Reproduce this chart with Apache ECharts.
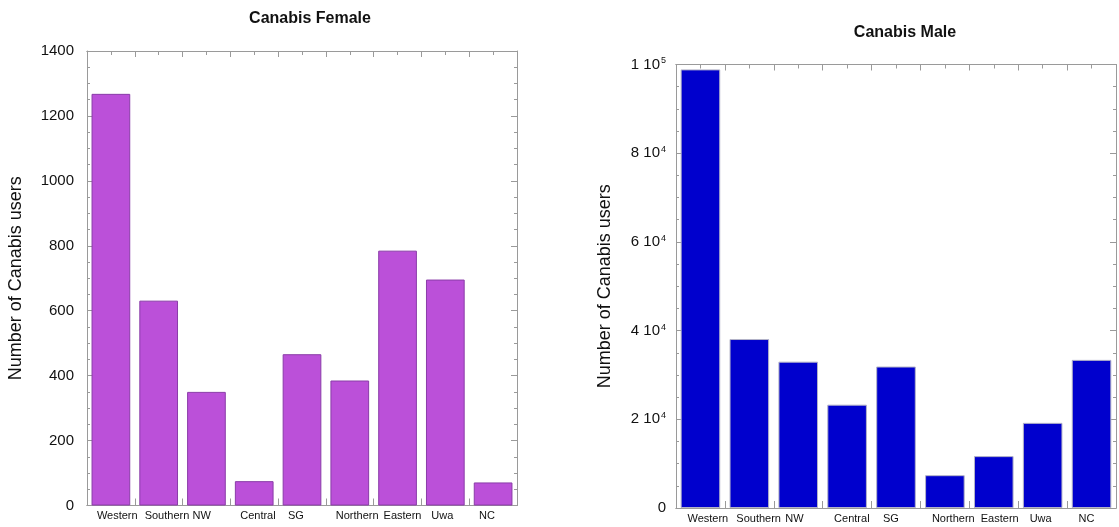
<!DOCTYPE html>
<html>
<head>
<meta charset="utf-8">
<script src="https://cdn.jsdelivr.net/npm/echarts@6/dist/echarts.min.js"></script>
<style>
html,body{margin:0;padding:0;background:#fff;}
#main{width:1119px;height:527px;}
</style>
</head>
<body>
<div id="main"></div>
<script>
const categories = ['Western','Southern','NW','Central','SG','Northern','Eastern','Uwa','NC'];
const femaleValues = [1268, 631, 350, 75, 466, 385, 785, 696, 71];
const maleValues = [98900, 38100, 33000, 23300, 31900, 7400, 11700, 19200, 33400];
const femaleTitle = 'Canabis Female';
const maleTitle = 'Canabis Male';
const yName = 'Number of Canabis users';
const femaleAxis = {min: 0, max: 1400, interval: 200};
const maleAxis = {min: 0, max: 100000, interval: 20000};

const AX = '#9a9a9a';
const FONT = 'Liberation Sans, Arial, sans-serif';

function plainLabel(v) { return String(v); }

function sciLabel(v) {
  if (v === 0) return '{m|0}';
  const e = Math.floor(Math.log10(v) + 1e-9);
  const m = Math.round(v / Math.pow(10, e));
  return '{m|' + m + ' 10}{e|' + e + '}';
}

function xAxes(gi, labelPad) {
  const base = {
    type: 'category', data: categories, gridIndex: gi,
    axisLine: {show: true, lineStyle: {color: AX, width: 1}},
    splitLine: {show: false}
  };
  return [
    Object.assign({}, base, {
      position: 'bottom',
      axisTick: {show: true, inside: true, length: 7, interval: 0, lineStyle: {color: AX}},
      axisLabel: {show: true, interval: 0, align: 'left', margin: 5, padding: [0, 0, 0, labelPad],
        fontFamily: FONT, fontSize: 11, color: '#111'}
    }),
    Object.assign({}, base, {
      position: 'bottom',
      axisTick: {show: true, inside: true, length: 4, interval: 0, alignWithLabel: true, lineStyle: {color: AX}},
      axisLabel: {show: false}
    }),
    Object.assign({}, base, {
      position: 'top',
      axisTick: {show: true, inside: true, length: 6, interval: 0, lineStyle: {color: AX}},
      axisLabel: {show: false}
    }),
    Object.assign({}, base, {
      position: 'top',
      axisTick: {show: true, inside: true, length: 4, interval: 0, alignWithLabel: true, lineStyle: {color: AX}},
      axisLabel: {show: false}
    })
  ];
}

function yAxes(gi, ax, labelCfg) {
  const base = {
    type: 'value', gridIndex: gi, min: ax.min, max: ax.max, interval: ax.interval,
    axisLine: {show: true, lineStyle: {color: AX, width: 1}},
    axisTick: {show: true, inside: true, length: 6, lineStyle: {color: AX}},
    minorTick: {show: true, splitNumber: 4, length: 3, lineStyle: {color: AX}},
    splitLine: {show: false}
  };
  return [
    Object.assign({}, base, {
      position: 'left',
      name: yName, nameLocation: 'middle', nameGap: 62, nameRotate: 90,
      nameTextStyle: {fontFamily: FONT, fontSize: 18, color: '#111'},
      axisLabel: labelCfg
    }),
    Object.assign({}, base, {
      position: 'right',
      axisLabel: {show: false}
    })
  ];
}

const chart = echarts.init(document.getElementById('main'), null, {renderer: 'canvas'});

const option = {
  backgroundColor: '#ffffff',
  animation: false,
  title: [
    {text: femaleTitle, left: 305, top: 6, textAlign: 'center',
      textStyle: {fontFamily: FONT, fontSize: 16, fontWeight: 'bold', color: '#111'}},
    {text: maleTitle, left: 900, top: 20, textAlign: 'center',
      textStyle: {fontFamily: FONT, fontSize: 16, fontWeight: 'bold', color: '#111'}}
  ],
  grid: [
    {left: 87, top: 51, width: 430, height: 454.5, containLabel: false},
    {left: 676, top: 64.5, width: 440, height: 443.5, containLabel: false}
  ],
  xAxis: [].concat(xAxes(0, -14), xAxes(1, -13)),
  yAxis: [].concat(
    yAxes(0, femaleAxis, {show: true, margin: 13, formatter: plainLabel, fontFamily: FONT, fontSize: 15, color: '#111'}),
    yAxes(1, maleAxis, {
      show: true, margin: 10, formatter: sciLabel,
      rich: {
        m: {fontFamily: FONT, fontSize: 15, color: '#111', lineHeight: 16},
        e: {fontFamily: FONT, fontSize: 9, color: '#111', verticalAlign: 'top', lineHeight: 9, padding: [0, 0, 8, 1]}
      }
    })
  ),
  series: [
    {type: 'bar', name: femaleTitle, data: femaleValues, xAxisIndex: 0, yAxisIndex: 0,
      barCategoryGap: '19%',
      itemStyle: {color: '#bb50d9', borderColor: '#8a3ca8', borderWidth: 1}},
    {type: 'bar', name: maleTitle, data: maleValues, xAxisIndex: 4, yAxisIndex: 2,
      barCategoryGap: '19%',
      itemStyle: {color: '#0000cd', borderColor: '#b4b4c8', borderWidth: 1}}
  ]
};
chart.setOption(option);
</script>
</body>
</html>
